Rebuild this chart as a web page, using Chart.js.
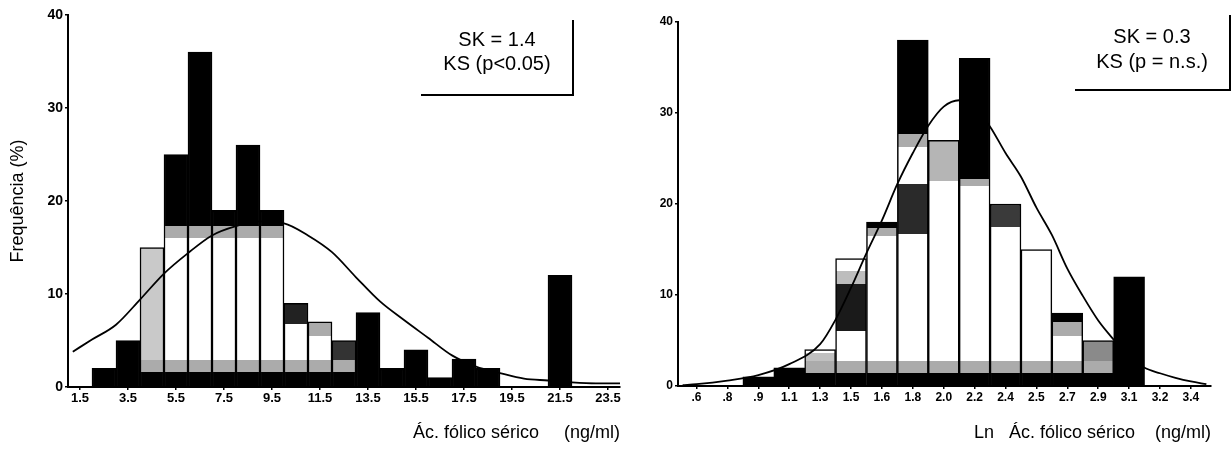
<!DOCTYPE html>
<html>
<head>
<meta charset="utf-8">
<script src="https://cdn.jsdelivr.net/npm/chart.js@4.4.1/dist/chart.umd.min.js"></script>
<style>
  html, body { margin: 0; padding: 0; background: #fff; }
  #wrap { position: relative; width: 1232px; height: 454px; }
  canvas { position: absolute; top: 0; }
  #chart1 { left: 0; }
  #chart2 { left: 625px; }
</style>
</head>
<body>
<div id="wrap">
  <canvas id="chart1" width="625" height="454"></canvas>
  <canvas id="chart2" width="607" height="454"></canvas>
</div>
<script>
// left panel: serum folic acid (ng/ml)
const leftBins = [1.5, 2.5, 3.5, 4.5, 5.5, 6.5, 7.5, 8.5, 9.5, 10.5, 11.5, 12.5,
  13.5, 14.5, 15.5, 16.5, 17.5, 18.5, 19.5, 20.5, 21.5, 22.5, 23.5];
const leftFreq = [0, 2, 5, 15, 25, 36, 19, 26, 19, 9, 7, 5, 8, 2, 4, 1, 3, 2, 0, 0, 12, 0, 0];
const leftTicks = ['1.5', '3.5', '5.5', '7.5', '9.5', '11.5', '13.5', '15.5', '17.5', '19.5', '21.5', '23.5'];
const leftCurveX = [1.2, 2, 3, 4, 5, 6, 7, 8, 9, 10, 11, 12, 13, 14, 15, 16, 17, 18, 19, 20, 21, 22, 23, 24];
const leftCurveY = [3.8, 5.1, 6.7, 9.4, 12.2, 14.4, 16.3, 17.3, 17.8, 17.6, 16.3, 14.5, 11.8, 9.2, 7.2, 5.3, 3.4, 2.2, 1.5, 0.9, 0.7, 0.5, 0.4, 0.4];
const leftNotes = ['SK = 1.4', 'KS (p<0.05)'];

// right panel: ln of serum folic acid, bins shown by their rounded midpoints
const rightBins = ['.6', '.8', '.9', '1.1', '1.3', '1.5', '1.6', '1.8', '2.0', '2.2', '2.4', '2.5', '2.7', '2.9', '3.1', '3.2', '3.4'];
const rightFreq = [0, 0, 1, 2, 4, 14, 18, 38, 27, 36, 20, 15, 8, 5, 12, 0, 0];
const rightCurveX = [-0.45, 0, 1, 2, 3, 4, 4.5, 5, 5.5, 6, 6.5, 7, 7.5, 8, 8.5, 9, 9.5, 10, 10.5, 11, 11.5, 12, 12.5, 13, 13.5, 14, 14.5, 15, 15.5, 16, 16.5];
const rightCurveY = [0.1, 0.2, 0.6, 1.2, 2.4, 4.6, 7.3, 10.8, 14.6, 18.2, 22.2, 25.6, 28.6, 30.7, 31.4, 30.6, 28.5, 25.6, 23.0, 19.6, 16.6, 12.9, 9.9, 7.2, 5.1, 3.2, 2.0, 1.4, 0.9, 0.5, 0.2];
const rightNotes = ['SK = 0.3', 'KS (p = n.s.)'];

// scanned look of the bars: black foot, grey band, and some dark patches
const GREY = '#ababab';
const leftBase = [[0, 1.6, '#000'], [1.6, 2.9, GREY]];
const capL = [[16, 17.3, GREY], [17.3, 40, '#000']];
const leftPatches = [[], 'black', 'black', [[2.9, 15, '#c9c9c9']], capL, capL, capL, capL, capL,
  [[6.8, 9, '#222']], [[5.5, 7, GREY]], [[2.9, 5, '#333']], 'black', 'black', 'black', 'black',
  'black', 'black', [], [], 'black', [], []];
const rightBase = [[0, 1.4, '#000'], [1.4, 2.8, GREY]];
const rightPatches = [[], [], 'black', 'black', [[2.8, 3.6, '#c0c0c0']],
  [[6, 11.2, '#1a1a1a'], [11.2, 12.6, '#bdbdbd']],
  [[16.5, 17.4, GREY], [17.4, 40, '#000']],
  [[16.7, 22.2, '#2a2a2a'], [26.3, 27.7, GREY], [27.7, 40, '#000']],
  [[22.5, 27, '#b5b5b5']],
  [[22, 22.7, GREY], [22.7, 40, '#000']],
  [[17.5, 20, '#3a3a3a']],
  [],
  [[5.5, 7, GREY], [7, 8, '#000']],
  [[2.8, 5, '#8a8a8a']],
  'black', [], []];

function barFill(c, values, patches, base) {
  if (c.type !== 'data') return '#fff';
  const p = patches[c.dataIndex];
  if (p === 'black') return '#000';
  const top = values[c.dataIndex];
  if (!top) return '#fff';
  const y = c.chart.scales.y;
  const g = c.chart.ctx.createLinearGradient(0, y.getPixelForValue(0), 0, y.getPixelForValue(top));
  const segs = base.concat(p);
  const cuts = [0, top];
  segs.forEach(s => cuts.push(Math.min(s[0], top), Math.min(s[1], top)));
  cuts.sort((a, b) => a - b);
  for (let k = 0; k < cuts.length - 1; k++) {
    const a = cuts[k], b = cuts[k + 1];
    if (b <= a) continue;
    const m = (a + b) / 2;
    let col = '#fff';
    segs.forEach(s => { if (m >= s[0] && m < s[1]) col = s[2]; });
    g.addColorStop(a / top, col);
    g.addColorStop(b / top, col);
  }
  return g;
}

const notesPlugin = {
  id: 'notes',
  afterDraw(chart, args, o) {
    const ctx = chart.ctx;
    ctx.save();
    ctx.font = '20px Arial, "Liberation Sans", sans-serif';
    ctx.fillStyle = '#000';
    ctx.textAlign = 'center';
    ctx.textBaseline = 'middle';
    o.lines.forEach((t, i) => ctx.fillText(t, o.cx, o.cy + i * o.gap));
    ctx.strokeStyle = '#000';
    ctx.lineWidth = 2;
    ctx.beginPath();
    ctx.moveTo(o.x0, o.yb);
    ctx.lineTo(o.x1, o.yb);
    ctx.lineTo(o.x1, o.yt);
    ctx.stroke();
    ctx.restore();
  }
};

const FONT = 'Arial, "Liberation Sans", sans-serif';
Chart.defaults.font.family = FONT;
Chart.defaults.color = '#000';

function axisGrid() {
  return { display: true, drawOnChartArea: false, drawTicks: true, tickLength: 3, color: '#000', lineWidth: 1.5 };
}

// left chart
new Chart(document.getElementById('chart1'), {
  type: 'bar',
  data: {
    datasets: [{
      type: 'line',
      data: leftCurveX.map((x, i) => ({ x: x, y: leftCurveY[i] })),
      borderColor: '#000',
      borderWidth: 1.8,
      pointRadius: 0,
      fill: false,
      cubicInterpolationMode: 'monotone',
      order: 0
    }, {
      data: leftBins.map((x, i) => ({ x: x, y: leftFreq[i] })),
      backgroundColor: c => barFill(c, leftFreq, leftPatches, leftBase),
      borderColor: '#000',
      borderWidth: 1.5,
      barPercentage: 1,
      categoryPercentage: 1,
      order: 1
    }]
  },
  options: {
    responsive: false,
    animation: false,
    devicePixelRatio: 1,
    layout: { padding: { top: 15, right: 5, left: 0, bottom: 0 } },
    scales: {
      x: {
        type: 'linear', min: 1, max: 24, offset: false,
        grid: Object.assign(axisGrid(), { offset: false }),
        border: { display: true, color: '#000', width: 2 },
        afterBuildTicks: s => { s.ticks = leftTicks.map(t => ({ value: parseFloat(t) })); },
        afterFit: s => { s.height = 67; },
        ticks: { autoSkip: false, maxRotation: 0, padding: 1, font: { size: 13, weight: 'bold' },
          callback: v => v.toFixed(1) },
        title: { display: true, text: 'Ác. fólico sérico     (ng/ml)', align: 'end',
          font: { size: 18 }, padding: { top: 0, bottom: 10 } }
      },
      y: {
        min: 0, max: 40,
        grid: axisGrid(),
        border: { display: true, color: '#000', width: 2 },
        afterFit: s => { s.width = 68; },
        ticks: { stepSize: 10, padding: 2, font: { size: 14, weight: 'bold' } },
        title: { display: true, text: 'Frequência (%)', font: { size: 18 }, padding: { top: 7, bottom: 0 } }
      }
    },
    plugins: {
      legend: { display: false },
      tooltip: { enabled: false },
      notes: { lines: leftNotes, cx: 497, cy: 40, gap: 24, x0: 421, x1: 573, yb: 95, yt: 20 }
    }
  },
  plugins: [notesPlugin]
});

// right chart
new Chart(document.getElementById('chart2'), {
  type: 'bar',
  data: {
    datasets: [{
      type: 'line',
      data: rightCurveX.map((x, i) => ({ x: x, y: rightCurveY[i] })),
      borderColor: '#000',
      borderWidth: 1.8,
      pointRadius: 0,
      fill: false,
      cubicInterpolationMode: 'monotone',
      order: 0
    }, {
      data: rightBins.map((b, i) => ({ x: i, y: rightFreq[i] })),
      backgroundColor: c => barFill(c, rightFreq, rightPatches, rightBase),
      borderColor: '#000',
      borderWidth: 1.5,
      barPercentage: 1,
      categoryPercentage: 1,
      order: 1
    }]
  },
  options: {
    responsive: false,
    animation: false,
    devicePixelRatio: 1,
    layout: { padding: { top: 22, right: 21, left: 0, bottom: 0 } },
    scales: {
      x: {
        type: 'linear', min: -0.6, max: 16.65, offset: false,
        grid: Object.assign(axisGrid(), { offset: false }),
        border: { display: true, color: '#000', width: 2 },
        afterBuildTicks: s => { s.ticks = rightBins.map((b, i) => ({ value: i })); },
        afterFit: s => { s.height = 68; },
        ticks: { autoSkip: false, maxRotation: 0, padding: 1, font: { size: 12, weight: 'bold' },
          callback: v => rightBins[v] },
        title: { display: true, text: 'Ln   Ác. fólico sérico    (ng/ml)', align: 'end',
          font: { size: 18 }, padding: { top: 0, bottom: 10 } }
      },
      y: {
        min: 0, max: 40,
        grid: axisGrid(),
        border: { display: true, color: '#000', width: 2 },
        afterFit: s => { s.width = 53; },
        ticks: { stepSize: 10, padding: 2, font: { size: 12, weight: 'bold' } }
      }
    },
    plugins: {
      legend: { display: false },
      tooltip: { enabled: false },
      notes: { lines: rightNotes, cx: 527, cy: 37, gap: 25, x0: 450, x1: 605, yb: 90, yt: 15 }
    }
  },
  plugins: [notesPlugin]
});
</script>
</body>
</html>
